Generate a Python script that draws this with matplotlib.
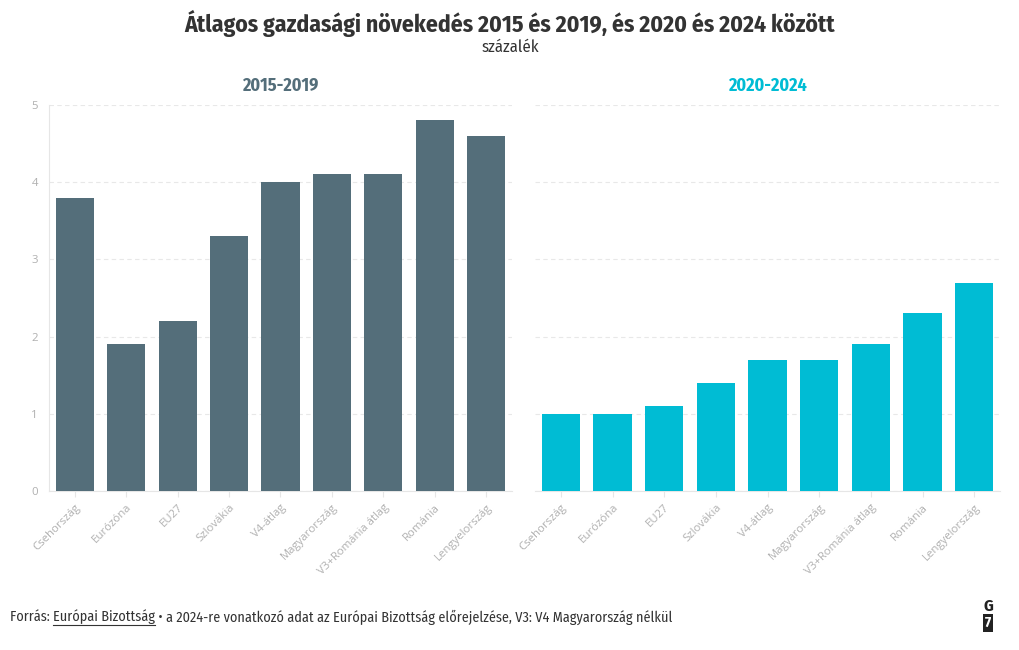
import matplotlib.pyplot as plt

countries = ["Csehország", "Eurózóna", "EU27", "Szlovákia", "V4-átlag",
             "Magyarország", "V3+Románia átlag", "Románia", "Lengyelország"]
growth_2015_2019 = [3.8, 1.9, 2.2, 3.3, 4.0, 4.1, 4.1, 4.8, 4.6]
growth_2020_2024 = [1.0, 1.0, 1.1, 1.4, 1.7, 1.7, 1.9, 2.3, 2.7]
panel_titles = ["2015-2019", "2020-2024"]
yticks = [0, 1, 2, 3, 4, 5]

dark = "#546e7a"
cyan = "#00bcd4"
narrow = ["Fira Sans Condensed", "DejaVu Sans"]
plt.rcParams["font.family"] = ["Open Sans", "DejaVu Sans"]

fig = plt.figure(figsize=(10.2, 6.5), dpi=100)
ax1 = fig.add_axes([49 / 1020, 1 - 491 / 650, 463 / 1020, 386 / 650])
ax2 = fig.add_axes([535 / 1020, 1 - 491 / 650, 465 / 1020, 386 / 650])

for ax, vals, title, col in [(ax1, growth_2015_2019, panel_titles[0], dark),
                             (ax2, growth_2020_2024, panel_titles[1], cyan)]:
    x = range(len(countries))
    ax.bar(x, vals, width=0.74, color=col, zorder=3)
    ax.set_xlim(-0.5, len(countries) - 0.5)
    ax.set_ylim(0, 5)
    ax.set_yticks(yticks)
    ax.grid(axis="y", color="#e8e8e8", linestyle=(0, (4, 3)), linewidth=0.8, zorder=0)
    ax.set_xticks(list(x))
    ax.set_xticklabels(countries, rotation=45, ha="right", rotation_mode="anchor",
                       fontsize=8.2, color="#b0b0b0")
    ax.tick_params(axis="x", length=4, color="#e6e6e6", pad=4)
    ax.tick_params(axis="y", length=0, labelsize=8.2, labelcolor="#b0b0b0", pad=8)
    for s in ["top", "right"]:
        ax.spines[s].set_visible(False)
    ax.spines["bottom"].set_color("#e6e6e6")
    ax.spines["left"].set_color("#e6e6e6")
    ax.set_title(title, fontsize=13, fontweight="bold", color=col,
                 family=narrow, pad=10)

ax2.spines["left"].set_visible(False)
ax2.tick_params(axis="y", labelleft=False)

fig.text(0.5, 1 - 23 / 650, "Átlagos gazdasági növekedés 2015 és 2019, és 2020 és 2024 között",
         ha="center", va="center", fontsize=17, fontweight="bold", color="#333333",
         family=narrow)
fig.text(0.5, 1 - 47 / 650, "százalék", ha="center", va="center", fontsize=12,
         color="#333333", family=narrow)

y_foot = 1 - 617 / 650
fs = 10.2
t1 = fig.text(10 / 1020, y_foot, "Forrás: ", ha="left", va="center", fontsize=fs,
              color="#333333", family=narrow)
fig.canvas.draw()
r = fig.canvas.get_renderer()
bb = t1.get_window_extent(r)
t2 = fig.text(bb.x1 / 1020, y_foot, "Európai Bizottság", ha="left", va="center",
              fontsize=fs, color="#333333", family=narrow)
bb2 = t2.get_window_extent(r)
fig.add_artist(plt.Line2D([bb2.x0 / 1020, bb2.x1 / 1020],
                          [(bb2.y0 - 1) / 650, (bb2.y0 - 1) / 650],
                          color="#333333", linewidth=0.8))
fig.text(bb2.x1 / 1020, y_foot,
         " • a 2024-re vonatkozó adat az Európai Bizottság előrejelzése, V3: V4 Magyarország nélkül",
         ha="left", va="center", fontsize=fs, color="#333333", family=narrow)

# G7 logo
fig.text(988 / 1020, 1 - 606 / 650, "G", ha="center", va="center", fontsize=12,
         fontweight="bold", color="#222222", family=narrow)
fig.text(988 / 1020, 1 - 623 / 650, "7", ha="center", va="center", fontsize=10.5,
         fontweight="bold", color="white", family=narrow,
         bbox=dict(boxstyle="square,pad=0.12", fc="#222222", ec="none"))

fig.savefig("out.png", dpi=100)
